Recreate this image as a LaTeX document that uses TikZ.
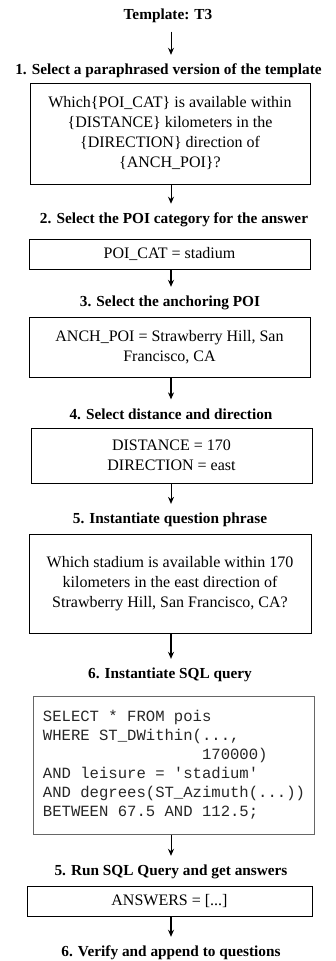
\documentclass[tikz,border=0pt]{standalone}
\usepackage{fontspec}
\setmainfont{Liberation Serif}
\setmonofont{Liberation Mono}
\usetikzlibrary{arrows.meta}

\begin{document}
\begin{tikzpicture}[
    x=1pt, y=-1pt,
    title/.style={font=\fontsize{15.3}{18}\selectfont\bfseries,
                  inner xsep=0pt, inner ysep=9pt},
    box/.style={rectangle, draw, line width=0.8pt, inner sep=0pt,
                align=center, font=\fontsize{16}{20}\selectfont},
    sqlbox/.style={rectangle, draw=black!60, line width=1pt, inner xsep=0pt,
                   inner ysep=0pt, align=left, anchor=west, text=black!85,
                   font=\fontsize{15.6}{19}\selectfont\ttfamily},
    flow/.style={-{Stealth[length=7pt,width=6pt]}, line width=0.9pt},
    flowbold/.style={flow, line width=1.8pt}
]
\useasboundingbox (0,0) rectangle (336,961);

% step titles
\node[title] (t0) at (168, 15.5) {Template: T3};
\node[title] (t1) at (168.5, 71) {1. Select a paraphrased version of the template};
\node[title] (t2) at (174, 220) {2. Select the POI category for the answer};
\node[title] (t3) at (170, 303) {3. Select the anchoring POI};
\node[title] (t4) at (171, 414) {4. Select distance and direction};
\node[title] (t5) at (170, 520) {5. Instantiate question phrase};
\node[title] (t6) at (170, 675) {6. Instantiate SQL query};
\node[title] (t7) at (171, 872) {5. Run SQL Query and get answers};
\node[title] (t8) at (171, 953) {6. Verify and append to questions};

% boxes
\node[box, minimum width=280pt, minimum height=101pt] (b1) at (170, 133.5)
    {Which\{POI\_CAT\} is available within\\\{DISTANCE\} kilometers in the\\
     \{DIRECTION\} direction of\\\{ANCH\_POI\}?};
\node[box, minimum width=281pt, minimum height=30pt] (b2) at (169.5, 254)
    {POI\_CAT = stadium};
\node[box, minimum width=281pt, minimum height=60pt] (b3) at (169.5, 347)
    {ANCH\_POI = Strawberry Hill, San\\Francisco, CA};
\node[box, minimum width=281pt, minimum height=55pt] (b4) at (171.5, 455.5)
    {DISTANCE = 170\\DIRECTION = east};
\node[box, minimum width=282pt, minimum height=99pt] (b5) at (170, 583.5)
    {Which stadium is available within 170\\kilometers in the east direction of\\
     Strawberry Hill, San Francisco, CA?};
\node[sqlbox, minimum width=281pt, minimum height=138pt] (b6) at (33, 765)
    {SELECT * FROM pois\\WHERE ST\_DWithin(...,\\\hspace*{10.2em}170000)\\
     AND leisure = 'stadium'\\AND degrees(ST\_Azimuth(...))\\BETWEEN 67.5 AND 112.5;};
\node[box, minimum width=285pt, minimum height=30pt] (b7) at (169.5, 901)
    {ANSWERS = [...]};

% connectors
\draw[flow] (t0.south -| 171,0) -- (t1.north -| 171,0);
\draw[flow] (b1.south -| 171,0) -- (t2.north -| 171,0);
\draw[flowbold] (b2.south -| 171,0) -- (t3.north -| 171,0);
\draw[flowbold] (b3.south -| 171,0) -- (t4.north -| 171,0);
\draw[flow] (b4.south -| 171,0) -- (t5.north -| 171,0);
\draw[flowbold] (b5.south -| 171,0) -- (t6.north -| 171,0);
\draw[flow] (b6.south -| 171,0) -- (t7.north -| 171,0);
\draw[flowbold] (b7.south -| 171,0) -- (t8.north -| 171,0);
\end{tikzpicture}
\end{document}
